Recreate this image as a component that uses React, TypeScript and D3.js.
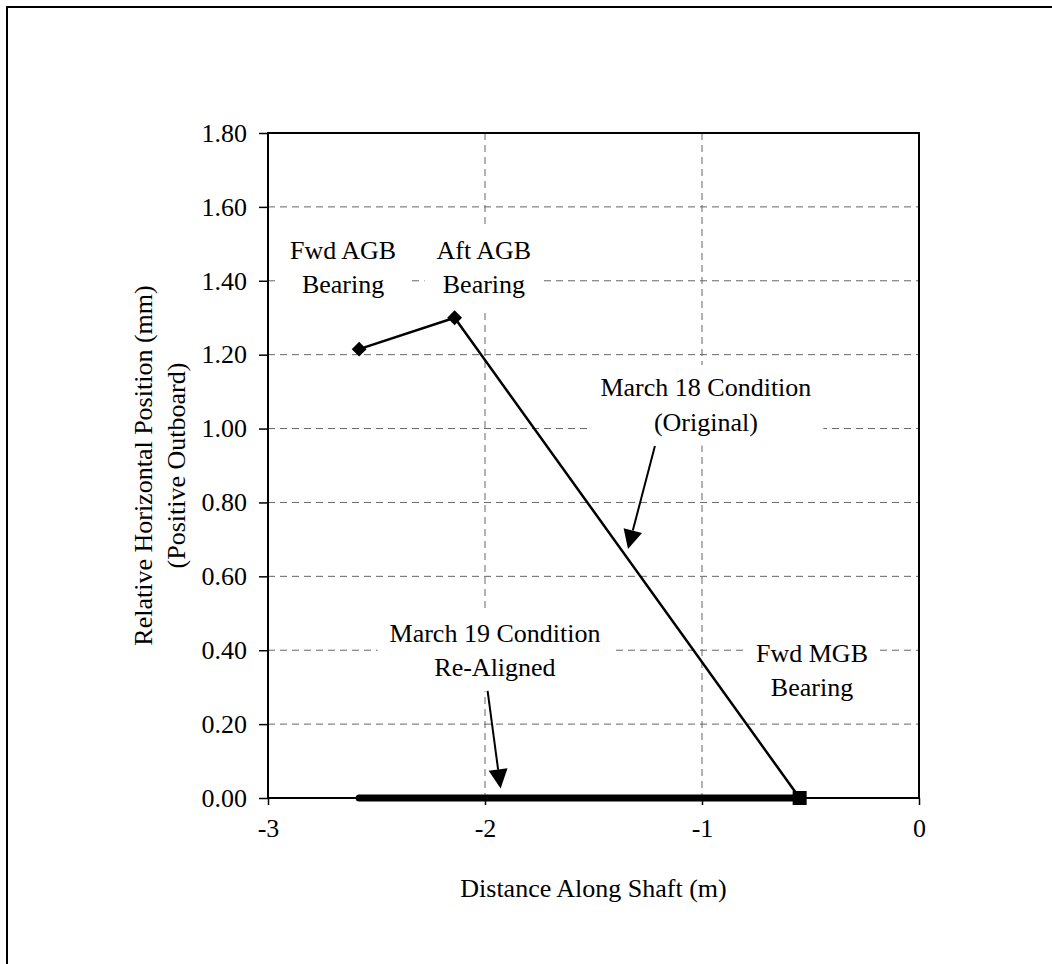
import { useEffect, useRef } from 'react';
import * as d3 from 'd3';

// axis ticks
const X_TICKS = [-3, -2, -1, 0];
const Y_TICKS = [0, 0.2, 0.4, 0.6, 0.8, 1.0, 1.2, 1.4, 1.6, 1.8];

// March 18 condition (original) – bearing positions
const MARCH18_X = [-2.58, -2.14, -0.55];
const MARCH18_Y = [1.215, 1.30, 0];

// March 19 condition (re-aligned)
const MARCH19_X = [-2.58, -0.55];
const MARCH19_Y = [0, 0];

// text callouts, anchored in data units (centre x, first baseline y)
const LABEL_TEXT = [
  ['Fwd AGB', 'Bearing'],
  ['Aft AGB', 'Bearing'],
  ['March 18 Condition', '(Original)'],
  ['March 19 Condition', 'Re-Aligned'],
  ['Fwd MGB', 'Bearing'],
];
const LABEL_X = [-2.654, -2.005, -0.982, -1.954, -0.493];
const LABEL_Y = [1.46, 1.46, 1.088, 0.423, 0.369];

// arrows: from -> to, data units
const ARROW_X0 = [-1.217, -1.988];
const ARROW_Y0 = [0.953, 0.29];
const ARROW_X1 = [-1.341, -1.928];
const ARROW_Y1 = [0.674, 0.026];

const W = 1052, H = 964;
const FONT = '"Liberation Serif", "Times New Roman", serif';

export default function App() {
  const svgRef = useRef<SVGSVGElement | null>(null);

  useEffect(() => {
    document.body.style.margin = '0';
    const svg = d3.select(svgRef.current);
    svg.selectAll('*').remove();

    const left = 268, right = 919, top = 133, bottom = 798;
    const x = d3.scaleLinear().domain([-3, 0]).range([left, right]);
    const y = d3.scaleLinear().domain([0, 1.8]).range([bottom, top]);

    svg.append('rect').attr('width', W).attr('height', H).attr('fill', '#fff');

    // outer chart frame
    svg.append('path')
      .attr('d', `M7,${H} V7 H${W}`)
      .attr('fill', 'none').attr('stroke', '#000').attr('stroke-width', 2);

    // grid
    const grid = svg.append('g').attr('stroke', '#666').attr('stroke-width', 1)
      .attr('stroke-dasharray', '7,5');
    grid.selectAll('line.h').data(Y_TICKS.slice(1, -1)).enter().append('line')
      .attr('x1', left).attr('x2', right)
      .attr('y1', d => y(d)).attr('y2', d => y(d));
    grid.selectAll('line.v').data(X_TICKS.slice(1, -1)).enter().append('line')
      .attr('y1', top).attr('y2', bottom)
      .attr('x1', d => x(d)).attr('x2', d => x(d));

    // label boxes + text
    const labels = svg.append('g');
    LABEL_TEXT.forEach((lines, i) => {
      const g = labels.append('g');
      const cx = x(LABEL_X[i]);
      const by = y(LABEL_Y[i]);
      const box = g.append('rect').attr('fill', '#fff');
      const t = g.append('text')
        .attr('text-anchor', 'middle')
        .style('font-family', FONT).style('font-size', '26px').attr('fill', '#000');
      lines.forEach((s, k) => {
        t.append('tspan').attr('x', cx).attr('y', by + k * 34.5).text(s);
      });
      const bb = (t.node() as SVGTextElement).getBBox();
      box.attr('x', bb.x - 12).attr('width', bb.width + 24)
        .attr('y', by - 31).attr('height', 31 + (lines.length - 1) * 34.5 + 15);
    });

    // March 18 line
    const pts18 = MARCH18_X.map((v, i) => [x(v), y(MARCH18_Y[i])] as [number, number]);
    svg.append('path').attr('d', d3.line()(pts18))
      .attr('fill', 'none').attr('stroke', '#000').attr('stroke-width', 2.5);

    // March 19 line
    const pts19 = MARCH19_X.map((v, i) => [x(v), y(MARCH19_Y[i])] as [number, number]);
    svg.append('path').attr('d', d3.line()(pts19))
      .attr('fill', 'none').attr('stroke', '#000').attr('stroke-width', 7)
      .attr('stroke-linecap', 'round');

    // plot frame
    svg.append('rect').attr('x', left).attr('y', top)
      .attr('width', right - left).attr('height', bottom - top)
      .attr('fill', 'none').attr('stroke', '#000').attr('stroke-width', 2);

    // axes ticks & labels
    const yAxis = svg.append('g').attr('transform', `translate(${left},0)`)
      .call(d3.axisLeft(y).tickValues(Y_TICKS).tickFormat(d3.format('.2f')).tickSize(9).tickPadding(12));
    yAxis.select('.domain').remove();
    yAxis.selectAll('line').attr('stroke', '#000').attr('stroke-width', 1.5);
    yAxis.selectAll('text').style('font-family', FONT).style('font-size', '26px').attr('fill', '#000');

    const xAxis = svg.append('g').attr('transform', `translate(0,${bottom})`)
      .call(d3.axisBottom(x).tickValues(X_TICKS).tickFormat(d3.format('d')).tickSize(7).tickPadding(14));
    xAxis.select('.domain').remove();
    xAxis.selectAll('line').attr('stroke', '#000').attr('stroke-width', 1.5);
    xAxis.selectAll('text').style('font-family', FONT).style('font-size', '26px').attr('fill', '#000')
      .text(d => (d as number) < 0 ? `-${Math.abs(d as number)}` : `${d}`);

    // markers
    svg.selectAll('path.dia').data(pts18.slice(0, 2)).enter().append('path')
      .attr('d', d3.symbol(d3.symbolDiamond2, 140)())
      .attr('transform', d => `translate(${d[0]},${d[1]})`)
      .attr('fill', '#000');
    svg.append('rect')
      .attr('x', pts19[1][0] - 7).attr('y', pts19[1][1] - 7)
      .attr('width', 14).attr('height', 14).attr('fill', '#000');

    // arrows
    ARROW_X0.forEach((_, i) => {
      const x0 = x(ARROW_X0[i]), y0 = y(ARROW_Y0[i]);
      const x1 = x(ARROW_X1[i]), y1 = y(ARROW_Y1[i]);
      const ang = Math.atan2(y1 - y0, x1 - x0);
      const len = 19, half = 9.5;
      const bx = x1 - len * Math.cos(ang), by = y1 - len * Math.sin(ang);
      svg.append('line').attr('x1', x0).attr('y1', y0).attr('x2', bx).attr('y2', by)
        .attr('stroke', '#000').attr('stroke-width', 2);
      const px = -Math.sin(ang) * half, py = Math.cos(ang) * half;
      svg.append('path')
        .attr('d', `M${x1},${y1} L${bx + px},${by + py} L${bx - px},${by - py} Z`)
        .attr('fill', '#000');
    });

    // axis titles
    svg.append('text').attr('x', (left + right) / 2).attr('y', 897)
      .attr('text-anchor', 'middle')
      .style('font-family', FONT).style('font-size', '26px')
      .text('Distance Along Shaft (m)');
    const yt = svg.append('text')
      .attr('transform', `translate(152,${(top + bottom) / 2}) rotate(-90)`)
      .attr('text-anchor', 'middle')
      .style('font-family', FONT).style('font-size', '26px');
    yt.append('tspan').attr('x', 0).attr('y', 0).text('Relative Horizontal Position (mm)');
    yt.append('tspan').attr('x', 0).attr('y', 33).text('(Positive Outboard)');
  }, []);

  return (
    <svg ref={svgRef} width={W} height={H}
      style={{ display: 'block', position: 'absolute', left: 0, top: 0 }} />
  );
}
